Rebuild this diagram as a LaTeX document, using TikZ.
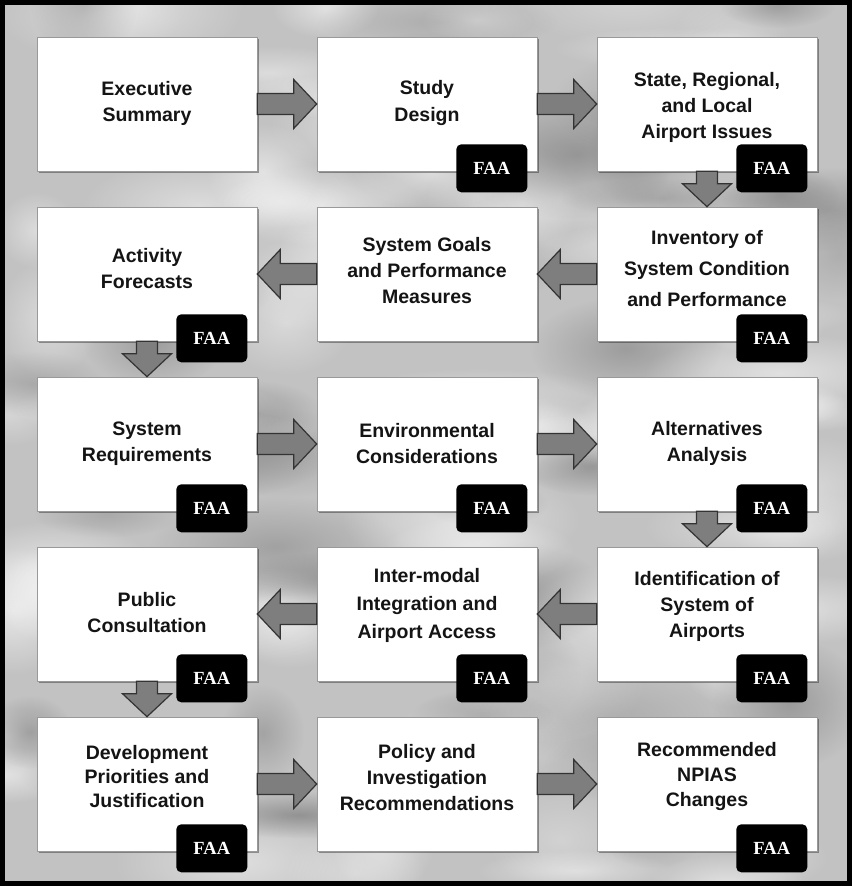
\documentclass[tikz,border=0pt]{standalone}
\usepackage{fontspec}
\setmainfont{Liberation Sans}
\newfontfamily\faafont{Liberation Serif}
\usetikzlibrary{calc,shadows,fadings}
\definecolor{bgbase}{HTML}{C2C2C2}
\definecolor{arrowgray}{HTML}{7E7E7E}
\definecolor{arrowedge}{HTML}{333333}
\tikzfading[name=softblob, inner color=transparent!0, outer color=transparent!100]
\newcommand\fatarrow[2]{%
  \coordinate (fa-h) at ($(#2)!23pt!(#1)$);
  \path[blockarr] ($(#1)!10.5pt!90:(#2)$) -- ($(fa-h)!10.5pt!90:(#2)$)
    -- ($(fa-h)!24.5pt!90:(#2)$) -- (#2) -- ($(fa-h)!24.5pt!-90:(#2)$)
    -- ($(fa-h)!10.5pt!-90:(#2)$) -- ($(#1)!10.5pt!-90:(#2)$) -- cycle;
}
% \stepnode{name}{x,y}{text dy}{line pitch}{text}
\newcommand\stepnode[5]{%
  \node[stepbox] (#1) at (#2) {};
  \node[boxtext, font=\fontsize{19.5}{#4}\selectfont\bfseries] (#1t) at ($(#1.center)+(0,#3)$) {#5};
}
\begin{document}
\begin{tikzpicture}[x=1pt,y=-1pt,
  stepbox/.style={draw=black!40, line width=0.6pt, fill=white,
    minimum width=220pt, minimum height=134pt, inner sep=0pt,
    drop shadow={shadow xshift=2pt, shadow yshift=-2pt, opacity=0.35, fill=black}},
  boxtext/.style={inner sep=0pt, align=center, text=black!92},
  faabadge/.style={fill=black, rounded corners=5pt, minimum width=71pt,
    minimum height=48pt, inner sep=0pt, text=white,
    font=\faafont\fontsize{18.5}{18.5}\selectfont\bfseries},
  blockarr/.style={fill=arrowgray, draw=arrowedge, line width=1.2pt, line join=miter}]
\useasboundingbox (0,0) rectangle (852,886);
% cloudy background
\fill[bgbase] (0,0) rectangle (852,886);
\begin{scope}
\clip (0,0) rectangle (852,886);
\pgfmathsetseed{11}
\foreach \i in {1,...,110}{
  \pgfmathsetmacro\cx{rnd*852}
  \pgfmathsetmacro\cy{rnd*886}
  \pgfmathsetmacro\rx{40+rnd*100}
  \pgfmathsetmacro\ry{20+rnd*45}
  \pgfmathsetmacro\op{0.25+rnd*0.35}
  \pgfmathtruncatemacro\dk{rnd<0.35 ? 1 : 0}
  \ifnum\dk=1 \def\cc{black!55}\else\def\cc{white}\fi
  \fill[\cc, opacity=\op, path fading=softblob]
    (\cx,\cy) ellipse [x radius=\rx, y radius=\ry];
}
\end{scope}
% boxes
\stepnode{b11}{147,104}{-1}{26}{Executive\\Summary}
\stepnode{b12}{427,104}{-1}{26}{Study\\Design}
\stepnode{b13}{707,104}{3}{26}{State, Regional,\\and Local\\Airport Issues}
\stepnode{b21}{147,274}{-5}{26}{Activity\\Forecasts}
\stepnode{b22}{427,274}{-3}{26}{System Goals\\and Performance\\Measures}
\stepnode{b23}{707,274}{-5}{31}{Inventory of\\System Condition\\and Performance}
\stepnode{b31}{147,444}{0}{26}{System\\Requirements}
\stepnode{b32}{427,444}{0}{26}{Environmental\\Considerations}
\stepnode{b33}{707,444}{-1}{26}{Alternatives\\Analysis}
\stepnode{b41}{147,614}{-1}{26}{Public\\Consultation}
\stepnode{b42}{427,614}{-9}{28}{Inter-modal\\Integration and\\Airport Access}
\stepnode{b43}{707,614}{-8}{26}{Identification of\\System of\\Airports}
\stepnode{b51}{147,784}{-7}{24}{Development\\Priorities and\\Justification}
\stepnode{b52}{427,784}{-6}{26}{Policy and\\Investigation\\Recommendations}
\stepnode{b53}{707,784}{-8}{25}{Recommended\\NPIAS\\Changes}
% arrows
\fatarrow{b11.east}{b12.west}
\fatarrow{b12.east}{b13.west}
\fatarrow{b13.south}{b23.north}
\fatarrow{b23.west}{b22.east}
\fatarrow{b22.west}{b21.east}
\fatarrow{b21.south}{b31.north}
\fatarrow{b31.east}{b32.west}
\fatarrow{b32.east}{b33.west}
\fatarrow{b33.south}{b43.north}
\fatarrow{b43.west}{b42.east}
\fatarrow{b42.west}{b41.east}
\fatarrow{b41.south}{b51.north}
\fatarrow{b51.east}{b52.west}
\fatarrow{b52.east}{b53.west}
% FAA badges
\foreach \b in {b12,b13,b21,b23,b31,b32,b33,b41,b42,b43,b51,b53}{
  \node[faabadge] (f\b) at ($(\b.south east)+(-45.5,-3)$) {FAA};
}
% frame
\draw[line width=5pt] (2.5,2.5) rectangle (849.5,883.5);
\end{tikzpicture}
\end{document}
